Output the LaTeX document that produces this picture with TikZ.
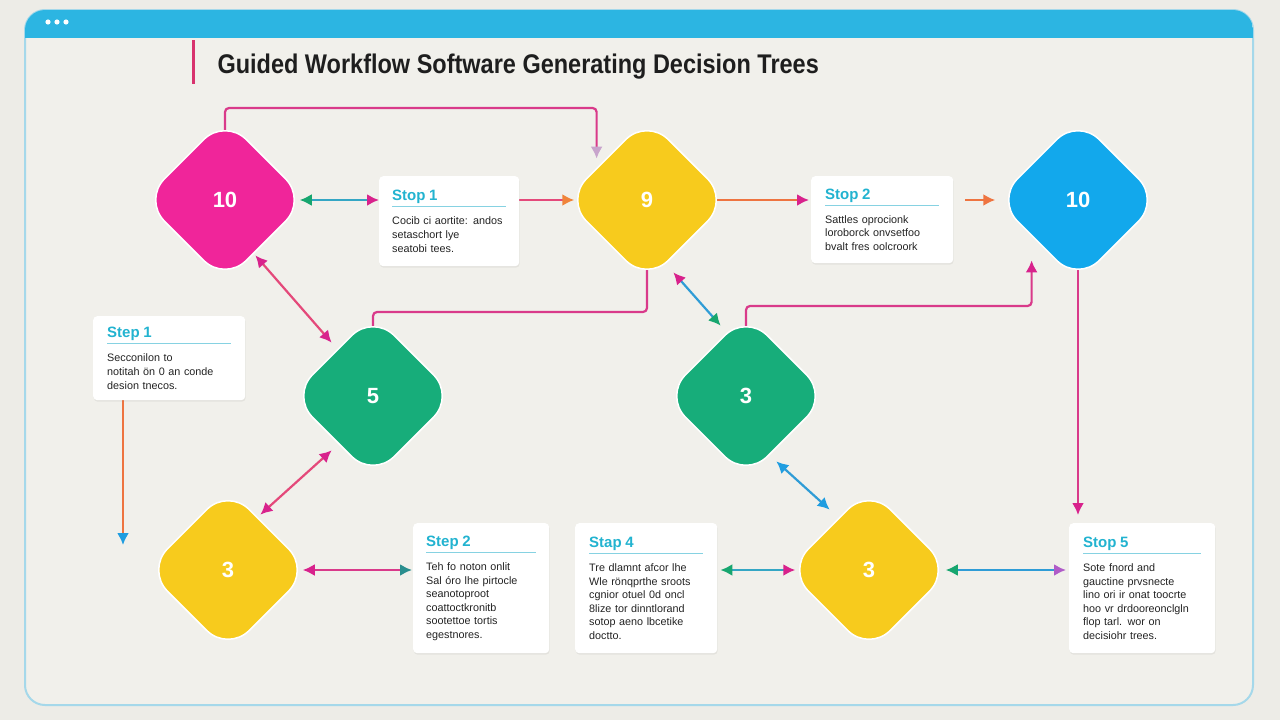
\documentclass[tikz,border=0pt]{standalone}
\usepackage{fontspec}
\setmainfont{Liberation Sans}
\usepackage{graphicx}
\usepackage{tikz}
\usetikzlibrary{arrows.meta, positioning, shapes.geometric, shadows}
\definecolor{pageback}{HTML}{EDECE7}
\definecolor{frameback}{HTML}{F1F0EB}
\definecolor{frameline}{HTML}{A5D8EA}
\definecolor{barblue}{HTML}{2CB5E2}
\definecolor{titlebar}{HTML}{D8336E}
\definecolor{titleink}{HTML}{1E1E1E}
\definecolor{diampink}{HTML}{F0259A}
\definecolor{diamyellow}{HTML}{F7CB1D}
\definecolor{diamblue}{HTML}{12A8EC}
\definecolor{diamgreen}{HTML}{17AD7A}
\definecolor{headcyan}{HTML}{22B3D0}
\definecolor{rulecyan}{HTML}{86D2E2}
\definecolor{bodyink}{HTML}{232323}
\definecolor{linkpink}{HTML}{D93A8A}
\definecolor{linkrose}{HTML}{E4497A}
\definecolor{linkteal}{HTML}{34A6C4}
\definecolor{linkblue}{HTML}{2F9CD6}
\definecolor{linkorange}{HTML}{EE7440}
\definecolor{tipgreen}{HTML}{17A66F}
\definecolor{tipmagenta}{HTML}{D8228C}
\definecolor{tiporange}{HTML}{F0843A}
\definecolor{tiplilac}{HTML}{C8A4CC}
\definecolor{tipblue}{HTML}{1F9DE0}
\definecolor{tipteal}{HTML}{2A8E8E}
\definecolor{tippurple}{HTML}{B05CC8}

\pgfdeclarelayer{bg}
\pgfsetlayers{bg,main}

\newcommand{\steptitle}[1]{{\color{headcyan}\bfseries\fontsize{15}{18}\selectfont #1\par}%
  \vspace{-7pt}{\color{rulecyan}\rule{\linewidth}{1.2pt}}\par\vspace{4pt}}

\tikzset{Tip/.tip={Latex[length=12pt, width=12pt]}}

\begin{document}
\begin{tikzpicture}[x=1pt, y=-1pt,
  diam/.style={diamond, aspect=1, minimum width=164pt, minimum height=164pt,
    inner sep=0pt, rounded corners=30pt, draw=white, line width=1.5pt,
    text=white, font=\fontsize{22}{24}\selectfont\bfseries},
  stepcard/.style={anchor=north west, fill=white, rounded corners=4pt, align=left,
    inner xsep=14pt, inner ysep=10pt, font=\fontsize{10.8}{13.6}\selectfont,
    text=bodyink, drop shadow={shadow xshift=0.5pt, shadow yshift=-1.5pt, opacity=0.12}},
  link/.style={line width=2.2pt, rounded corners=4pt}]
  \useasboundingbox (0,0) rectangle (1280,720);

  % decision diamonds
  \foreach \nm/\x/\y/\col/\num in {D1/225/200/diampink/10, D2/647/200/diamyellow/9,
      D3/1078/200/diamblue/10, D4/373/396/diamgreen/5, D5/746/396/diamgreen/3,
      D6/228/570/diamyellow/3, D7/869/570/diamyellow/3}
    { \node[diam, fill=\col] (\nm) at (\x,\y) {\num}; }

  % step cards
  \node[stepcard, text width=114pt, inner xsep=13pt, minimum height=90pt] (S1a) at (379,176)
    {\steptitle{Stop 1}Cocib ci aortite: andos\\ setaschort lye\\ seatobi tees.};
  \node[stepcard, text width=114pt, minimum height=87pt] (S2a) at (811,176)
    {\steptitle{Stop 2}Sattles oprocionk\\ loroborck onvsetfoo\\ bvalt fres oolcroork};
  \node[stepcard, text width=124pt, minimum height=84pt] (S1b) at (93,316)
    {\steptitle{Step 1}Secconilon to\\ notitah \"on 0 an conde\\ desion tnecos.};
  \node[stepcard, text width=110pt, inner xsep=13pt, minimum height=130pt] (S2b) at (413,523)
    {\steptitle{Step 2}Teh fo noton onlit\\ Sal \'oro lhe pirtocle\\ seanotoproot\\
     coattoctkronitb\\ sootettoe tortis\\ egestnores.};
  \node[stepcard, text width=114pt, minimum height=130pt] (S4) at (575,523)
    {\steptitle{Stap 4}Tre dlamnt afcor lhe\\ Wle r\"onqprthe sroots\\ cgnior otuel 0d oncl\\
     8lize tor dinntlorand\\ sotop aeno lbcetike\\ doctto.};
  \node[stepcard, text width=118pt, minimum height=130pt] (S5) at (1069,523)
    {\steptitle{Stop 5}Sote fnord and\\ gauctine prvsnecte\\ lino ori ir onat toocrte\\
     hoo vr drdooreonclgln\\ flop tarl. wor on\\ decisiohr trees.};

  % title
  \node[anchor=west, text=titleink, font=\fontsize{27}{30}\selectfont\bfseries] (title) at (214,67)
    {\scalebox{0.87}[1]{Guided Workflow Software Generating Decision Trees}};
  \coordinate (drop) at (123,545);

  \begin{pgfonlayer}{bg}
    % window
    \fill[pageback] (0,0) rectangle (1280,720);
    \draw[frameline, line width=2pt, fill=frameback, rounded corners=20pt] (25,10) rectangle (1253,705);
    \begin{scope}
      \clip[rounded corners=20pt] (25,10) rectangle (1253,705);
      \fill[barblue] (25,10) rectangle (1253,38);
    \end{scope}
    \foreach \x in {48,57,66} { \fill[white] (\x,22) circle (2.6); }
    \fill[titlebar] (192,40) rectangle (195,84);

    % connectors
    \draw[link, linkteal, {Tip[color=tipgreen]}-{Tip[color=tipmagenta]}, shorten <=-8pt]
      (D1.east) -- (D1.east -| S1a.west);
    \draw[link, linkrose, -{Tip[color=tiporange]}, shorten >=-10pt] (S1a.east |- D2.west) -- (D2.west);
    \draw[link, linkpink, -{Tip[color=tiplilac]}] (D1.center) -- ++(0,-92) -| ([xshift=-9pt]D2.north west);
    \draw[link, linkorange, -{Tip[color=tipmagenta]}, shorten >=2pt] (D2.center) -- (D2.center -| S2a.west);
    \draw[link, linkorange, -{Tip[color=linkorange]}, shorten <=12pt] (S2a.east |- D3.west) -- (D3.west);
    \draw[link, linkrose, {Tip[color=tipmagenta]}-{Tip[color=tipmagenta]}]
      ([xshift=-11pt,yshift=-14pt]D1.south east) -- ([yshift=12pt]D4.north west);
    \draw[link, linkpink] (D2.center) -- ++(0,112) -| (D4.center);
    \draw[link, linkblue, {Tip[color=tipmagenta]}-{Tip[color=tipgreen]}]
      ([xshift=-15pt,yshift=-31pt]D2.south east) -- ([xshift=16pt,yshift=29pt]D5.north west);
    \draw[link, linkpink, -{Tip[color=tipmagenta]}] (D5.center) -- ++(0,-90)
      -| ([xshift=-5pt,yshift=-19pt]D3.south west);
    \draw[link, linkpink, -{Tip[color=tipmagenta]}, shorten >=8pt] (D3.center) -- (D3.center |- S5.north);
    \draw[link, linkorange, -{Tip[color=tipblue]}] (S1b.south -| drop) -- (drop);
    \draw[link, linkrose, {Tip[color=tipmagenta]}-{Tip[color=tipmagenta]}]
      ([yshift=-13pt]D4.south west) -- ([xshift=-9pt,yshift=14pt]D6.north east);
    \draw[link, linkpink, {Tip[color=tipmagenta]}-{Tip[color=tipteal]}, shorten <=-8pt, shorten >=1pt]
      (D6.east) -- (D6.east -| S2b.west);
    \draw[link, linkteal, {Tip[color=tipgreen]}-{Tip[color=tipmagenta]}, shorten <=3pt, shorten >=-9pt]
      (S4.east |- D7.west) -- (D7.west);
    \draw[link, linkblue, {Tip[color=tipblue]}-{Tip[color=tipblue]}]
      ([xshift=-11pt,yshift=-24pt]D5.south east) -- ([xshift=2pt,yshift=19pt]D7.north west);
    \draw[link, linkblue, {Tip[color=tipgreen]}-{Tip[color=tippurple]}, shorten <=-6pt, shorten >=3pt]
      (D7.east) -- (D7.east -| S5.west);
  \end{pgfonlayer}
\end{tikzpicture}
\end{document}
